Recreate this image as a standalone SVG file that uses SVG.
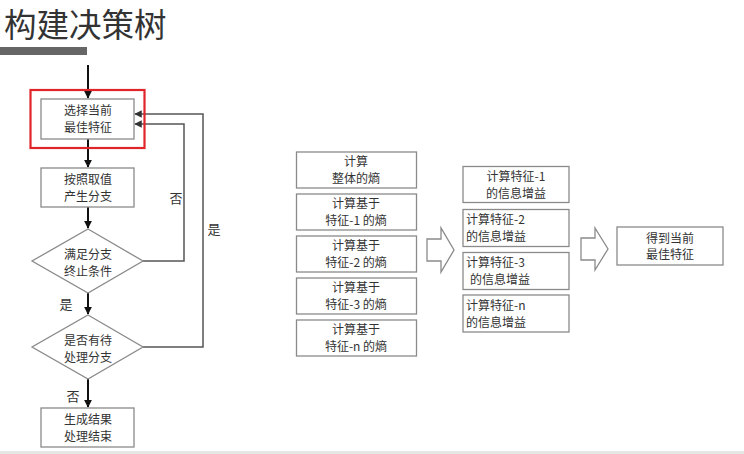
<svg xmlns="http://www.w3.org/2000/svg" width="744" height="454" viewBox="0 0 744 454">
<style>
text{font-family:"Noto Sans CJK SC","Noto Sans",sans-serif;fill:#333;}
.t{font-size:12px;text-anchor:middle;}
.s{font-size:12px;text-anchor:middle;}
.l{font-size:12px;}
.lab{font-size:13px;text-anchor:middle;}
.box{fill:#fff;stroke:#8a8a8a;stroke-width:1.3;}
.main{stroke:#111;stroke-width:2;fill:none;}
.loop{stroke:#555;stroke-width:1.5;fill:none;}
.big{fill:#fff;stroke:#8a8a8a;stroke-width:1.3;}
</style>
<defs>
<marker id="ah" viewBox="0 0 10 10" refX="9" refY="5" markerWidth="4" markerHeight="4" orient="auto" markerUnits="strokeWidth"><path d="M0,0 L10,5 L0,10 z" fill="#111"/></marker>
<marker id="ah2" viewBox="0 0 10 10" refX="9" refY="5" markerWidth="5" markerHeight="5" orient="auto" markerUnits="strokeWidth"><path d="M0,0 L10,5 L0,10 z" fill="#333"/></marker>
</defs>
<rect width="744" height="454" fill="#fff"/>
<rect x="0" y="451" width="744" height="3" fill="#e6e6e6"/>
<text x="4" y="37" style="font-size:32.5px">构建决策树</text>
<rect x="0" y="47" width="87" height="8" fill="#666"/>

<g id="connectors">
<line class="main" x1="88" y1="65" x2="88" y2="98" marker-end="url(#ah)"/>
<line class="main" x1="88" y1="139" x2="88" y2="167" marker-end="url(#ah)"/>
<line class="main" x1="88" y1="207" x2="88" y2="228" marker-end="url(#ah)"/>
<line class="main" x1="88" y1="293" x2="88" y2="314" marker-end="url(#ah)"/>
<line class="main" x1="88" y1="379" x2="88" y2="407" marker-end="url(#ah)"/>
<polyline class="loop" points="143,261 184,261 184,124 135,124" marker-end="url(#ah2)"/>
<polyline class="loop" points="143,347 203,347 203,114 135,114" marker-end="url(#ah2)"/>
<text class="lab" x="176" y="203">否</text>
<text class="lab" x="214" y="234">是</text>
<text class="lab" x="66" y="309">是</text>
<text class="lab" x="73" y="401">否</text>
</g>

<g id="n-select">
<rect x="30.5" y="90" width="114" height="58" fill="none" stroke="#e0242a" stroke-width="2.2"/>
<rect class="box" x="41" y="99" width="93" height="40"/>
<text class="t" x="88" y="115">选择当前<tspan x="88" dy="17">最佳特征</tspan></text>
</g>
<g id="n-branch">
<rect class="box" x="41" y="168" width="93" height="39"/>
<text class="t" x="88" y="184">按照取值<tspan x="88" dy="17">产生分支</tspan></text>
</g>
<g id="n-stop">
<polygon class="box" points="88,229 143,261 88,293 32,261"/>
<text class="t" x="88" y="259">满足分支<tspan x="88" dy="17">终止条件</tspan></text>
</g>
<g id="n-pending">
<polygon class="box" points="88,315 143,347 88,379 32,347"/>
<text class="t" x="88" y="345">是否有待<tspan x="88" dy="17">处理分支</tspan></text>
</g>
<g id="n-end">
<rect class="box" x="41" y="408" width="93" height="39"/>
<text class="t" x="88" y="424">生成结果<tspan x="88" dy="17">处理结束</tspan></text>
</g>

<g id="n-entropy">
<rect class="box" x="296.5" y="152" width="120" height="36"/>
<text class="s" x="356" y="166">计算<tspan x="356" dy="17">整体的熵</tspan></text>
<rect class="box" x="296.5" y="194" width="120" height="36"/>
<text class="s" x="356" y="208">计算基于<tspan x="356" dy="17">特征-1 的熵</tspan></text>
<rect class="box" x="296.5" y="236" width="120" height="36"/>
<text class="s" x="356" y="250">计算基于<tspan x="356" dy="17">特征-2 的熵</tspan></text>
<rect class="box" x="296.5" y="278" width="120" height="36"/>
<text class="s" x="356" y="292">计算基于<tspan x="356" dy="17">特征-3 的熵</tspan></text>
<rect class="box" x="296.5" y="320" width="120" height="36"/>
<text class="s" x="356" y="334">计算基于<tspan x="356" dy="17">特征-n 的熵</tspan></text>
</g>

<g id="arrow1">
<polygon class="big" points="427,239 441,239 441,228 454,250 441,272 441,261 427,261"/>
</g>

<g id="n-gain">
<rect class="box" x="463" y="166.5" width="106" height="36"/>
<text class="s" x="516" y="181">计算特征-1<tspan x="516" dy="17">的信息增益</tspan></text>
<rect class="box" x="463" y="209.5" width="106" height="37"/>
<text class="l" x="466" y="224">计算特征-2<tspan x="466" dy="17">的信息增益</tspan></text>
<rect class="box" x="463" y="252.5" width="106" height="37"/>
<text class="l" x="466" y="267">计算特征-3<tspan x="470" dy="17">的信息增益</tspan></text>
<rect class="box" x="463" y="295" width="106" height="37"/>
<text class="l" x="466" y="310">计算特征-n<tspan x="466" dy="17">的信息增益</tspan></text>
</g>

<g id="arrow2">
<polygon class="big" points="581,238 595,238 595,228 608,249 595,270 595,260 581,260"/>
</g>

<g id="n-best">
<rect class="box" x="617" y="227" width="106" height="38"/>
<text class="s" x="670" y="243">得到当前<tspan x="670" dy="16">最佳特征</tspan></text>
</g>
</svg>
